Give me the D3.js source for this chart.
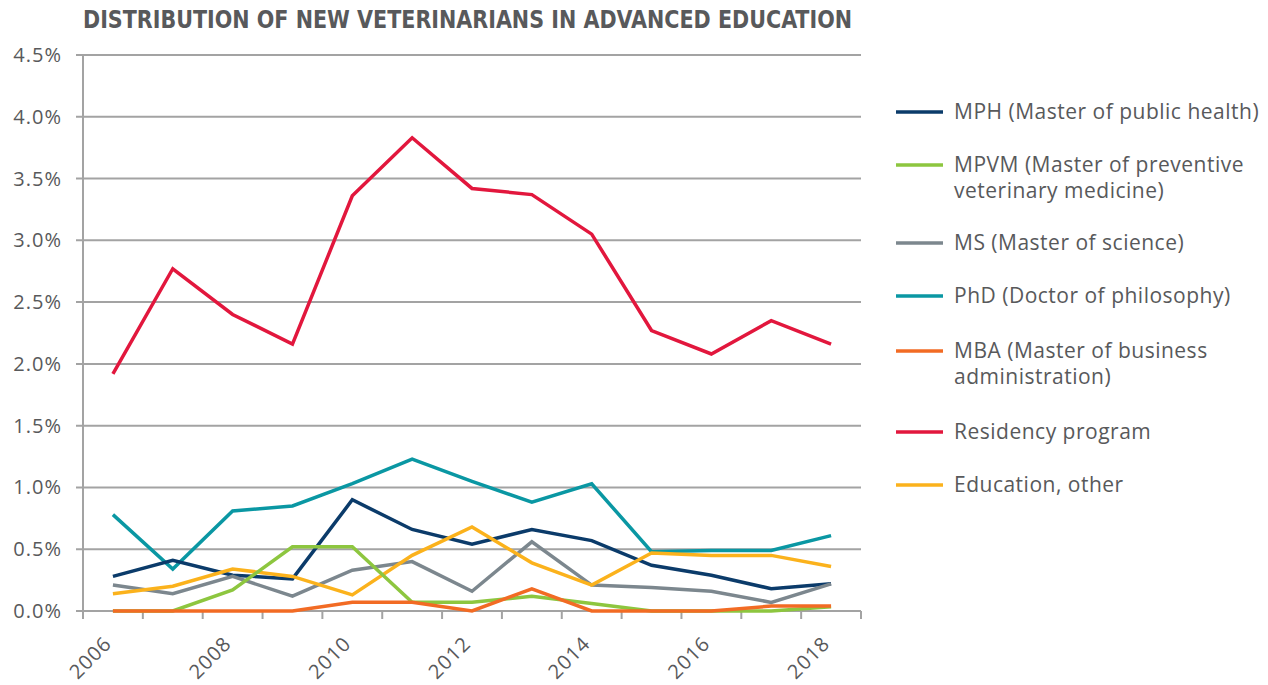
<!DOCTYPE html>
<html>
<head>
<meta charset="utf-8">
<script src="https://cdn.jsdelivr.net/npm/d3@7"></script>
<style>
  html, body { margin: 0; padding: 0; background: #fff; }
  svg { display: block; }
  text { font-family: "Open Sans", sans-serif; fill: #58595b; }
</style>
</head>
<body>
<svg id="chart" width="1268" height="685"></svg>
<script>
// Share of new veterinarians entering each kind of advanced education (percent)
const years = [2006, 2007, 2008, 2009, 2010, 2011, 2012, 2013, 2014, 2015, 2016, 2017, 2018];
const yearLabels = ["2006", "2008", "2010", "2012", "2014", "2016", "2018"];
const yTicks = [0, 0.5, 1.0, 1.5, 2.0, 2.5, 3.0, 3.5, 4.0, 4.5];

const mph       = [0.28, 0.41, 0.29, 0.26, 0.90, 0.66, 0.54, 0.66, 0.57, 0.37, 0.29, 0.18, 0.22];
const mpvm      = [0.00, 0.00, 0.17, 0.52, 0.52, 0.07, 0.07, 0.12, 0.06, 0.00, 0.00, 0.00, 0.035];
const ms        = [0.21, 0.14, 0.28, 0.12, 0.33, 0.40, 0.16, 0.56, 0.21, 0.19, 0.16, 0.07, 0.22];
const phd       = [0.78, 0.34, 0.81, 0.85, 1.03, 1.23, 1.05, 0.88, 1.03, 0.48, 0.49, 0.49, 0.61];
const mba       = [0.00, 0.00, 0.00, 0.00, 0.07, 0.07, 0.00, 0.18, 0.00, 0.00, 0.00, 0.04, 0.04];
const residency = [1.92, 2.77, 2.40, 2.16, 3.36, 3.83, 3.42, 3.37, 3.05, 2.27, 2.08, 2.35, 2.16];
const eduOther  = [0.14, 0.20, 0.34, 0.28, 0.13, 0.45, 0.68, 0.39, 0.21, 0.47, 0.45, 0.45, 0.36];

const seriesNames = [
  ["MPH (Master of public health)"],
  ["MPVM (Master of preventive", "veterinary medicine)"],
  ["MS (Master of science)"],
  ["PhD (Doctor of philosophy)"],
  ["MBA (Master of business", "administration)"],
  ["Residency program"],
  ["Education, other"]
];
const seriesValues = [mph, mpvm, ms, phd, mba, residency, eduOther];
const seriesColors = ["#0b3b6a", "#8dc63f", "#7c878e", "#0a97a3", "#f26b24", "#e2173d", "#fbb21c"];
// drawing order: later series on top
const drawOrder = [5, 3, 0, 2, 6, 1, 4];

const svg = d3.select("#chart");
const plotLeft = 83, plotRight = 861, plotTop = 55, plotBottom = 611;

const x = d3.scaleBand().domain(years).range([plotLeft, plotRight]).paddingInner(0).paddingOuter(0);
const y = d3.scaleLinear().domain([0, 4.5]).range([plotBottom, plotTop]);
const cx = yr => x(yr) + x.bandwidth() / 2;

// title
svg.append("text")
  .attr("x", plotLeft).attr("y", 28)
  .attr("textLength", 769).attr("lengthAdjust", "spacingAndGlyphs")
  .style("font-family", "'Liberation Sans Narrow', 'DejaVu Sans Condensed', sans-serif")
  .style("font-weight", "bold").style("font-size", "24px")
  .style("fill", "#58595b")
  .text("DISTRIBUTION OF NEW VETERINARIANS IN ADVANCED EDUCATION");

// horizontal gridlines with small outer ticks
svg.append("g").selectAll("line").data(yTicks).join("line")
  .attr("x1", plotLeft - 7).attr("x2", plotRight)
  .attr("y1", d => y(d)).attr("y2", d => y(d))
  .attr("stroke", "#a3a3a3").attr("stroke-width", 2);

// y tick labels
svg.append("g").selectAll("text").data(yTicks).join("text")
  .attr("x", 62).attr("y", d => y(d))
  .attr("dy", "0.35em").attr("text-anchor", "end")
  .style("font-size", "20px").style("letter-spacing", "1px")
  .text(d => d.toFixed(1) + "%");

// vertical axis line
svg.append("line")
  .attr("x1", plotLeft).attr("x2", plotLeft).attr("y1", plotTop).attr("y2", plotBottom)
  .attr("stroke", "#a3a3a3").attr("stroke-width", 2);

// category boundary ticks on the x axis
const edges = years.map(yr => x(yr)).concat([x(years[years.length - 1]) + x.bandwidth()]);
svg.append("g").selectAll("line").data(edges).join("line")
  .attr("x1", d => d).attr("x2", d => d)
  .attr("y1", plotBottom).attr("y2", plotBottom + 8)
  .attr("stroke", "#a3a3a3").attr("stroke-width", 2);

// rotated year labels
svg.append("g").selectAll("text").data(yearLabels).join("text")
  .attr("transform", d => `translate(${cx(+d) - 5},${plotBottom + 29}) rotate(-45)`)
  .attr("text-anchor", "end")
  .attr("dy", "0.35em")
  .style("font-size", "20px").style("letter-spacing", "1px")
  .text(d => d);

// series lines
const line = d3.line().x((d, i) => cx(years[i])).y(d => y(d));
svg.append("g").selectAll("path").data(drawOrder).join("path")
  .attr("d", k => line(seriesValues[k]))
  .attr("fill", "none")
  .attr("stroke", k => seriesColors[k])
  .attr("stroke-width", 3.5)
  .attr("stroke-linejoin", "miter");

// legend
const legendY = [112, 165, 243, 296, 351, 432, 485];
const lg = svg.append("g");
seriesNames.forEach((lines, k) => {
  const g = lg.append("g").attr("transform", `translate(896,${legendY[k]})`);
  g.append("line").attr("x1", 0).attr("x2", 47).attr("y1", 0).attr("y2", 0)
    .attr("stroke", seriesColors[k]).attr("stroke-width", 3.5);
  lines.forEach((t, j) => {
    g.append("text").attr("x", 58).attr("y", j * 26).attr("dy", "0.35em")
      .style("font-size", "21px").style("letter-spacing", "0.5px").text(t);
  });
});
</script>
</body>
</html>
